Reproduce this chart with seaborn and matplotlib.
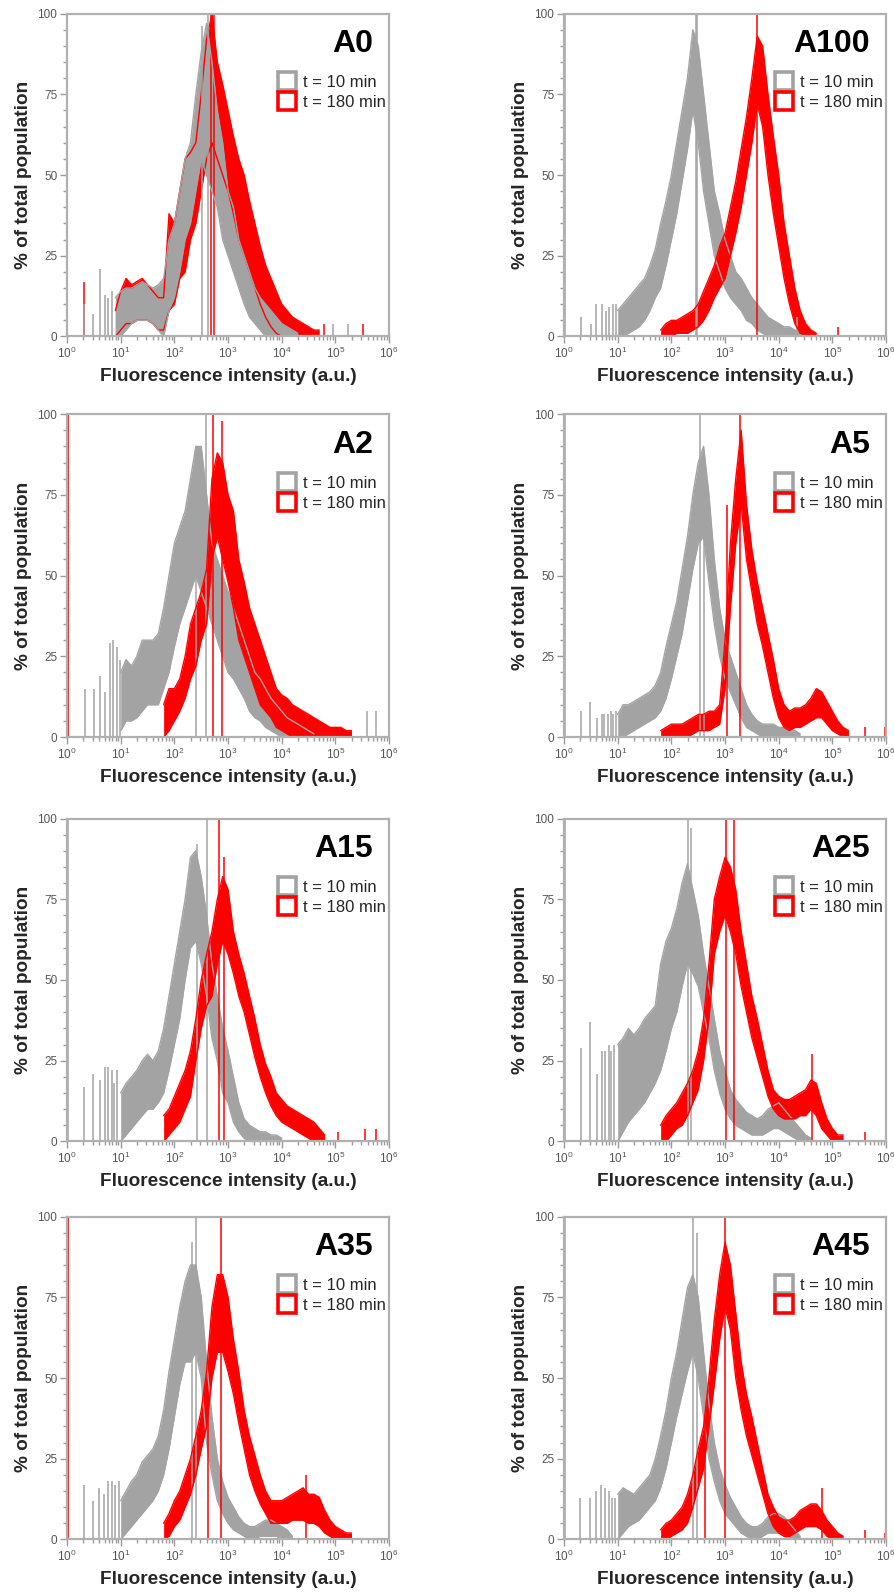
import numpy as np
import pandas as pd
import matplotlib
matplotlib.use("Agg")
import matplotlib.pyplot as plt
import seaborn as sns
from matplotlib.lines import Line2D
from matplotlib.ticker import MultipleLocator, LogLocator, NullFormatter

# Panels, left to right and top to bottom
panel_names = ['A0', 'A100', 'A2', 'A5', 'A15', 'A25', 'A35', 'A45']
series_labels = ['t = 10 min', 't = 180 min']

# Histogram: log10(intensity) of first bin, bins 0.1 decade wide,
# upper / lower edge of the noisy trace (% of total population),
# plus isolated spikes as (log10 intensity, height)
a0_gray_start = 0.9
a0_gray_hi = [12, 14, 15, 15, 16, 17, 16, 15, 16, 18, 30, 35, 45, 55, 60, 75, 88, 97, 85, 70,
              60, 45, 40, 30, 25, 20, 15, 12, 10, 8, 6, 4, 3, 2, 1]
a0_gray_lo = [0, 0, 2, 4, 5, 5, 5, 4, 2, 0, 8, 12, 20, 30, 35, 45, 55, 50, 45, 40,
              30, 25, 20, 15, 10, 6, 4, 2, 0, 0, 0, 0, 0, 0, 0]
a0_gray_spikes = [(0.31, 10), (0.49, 7), (0.62, 21), (0.71, 13), (0.77, 12), (0.83, 14),
                  (2.52, 96), (2.62, 100), (4.95, 4), (5.23, 4)]
a0_red_start = 0.9
a0_red_hi = [8, 14, 18, 16, 17, 18, 16, 14, 12, 12, 38, 35, 45, 55, 57, 60, 75, 92, 100, 85,
             78, 70, 62, 55, 50, 42, 35, 28, 22, 18, 14, 10, 8, 6, 5, 4, 3, 2, 2]
a0_red_lo = [0, 2, 4, 4, 5, 5, 5, 4, 2, 2, 8, 10, 18, 20, 30, 35, 45, 55, 60, 55,
             50, 45, 38, 30, 25, 20, 15, 10, 6, 3, 1, 0, 0, 0, 0, 0, 0, 0, 0]
a0_red_spikes = [(0.31, 17), (2.68, 100), (2.74, 100), (4.78, 4), (5.52, 4)]

a100_gray_start = 1.0
a100_gray_hi = [8, 10, 12, 14, 16, 18, 22, 27, 35, 42, 50, 60, 70, 80, 95, 90, 75, 60, 45, 38,
                30, 25, 20, 18, 15, 12, 10, 8, 6, 5, 4, 3, 3, 2, 1]
a100_gray_lo = [0, 0, 1, 2, 3, 5, 8, 12, 15, 22, 30, 38, 48, 58, 70, 60, 45, 35, 25, 20,
                15, 12, 10, 8, 5, 4, 2, 1, 0, 0, 0, 0, 0, 0, 0]
a100_gray_spikes = [(0.02, 100), (0.31, 6), (0.50, 4), (0.60, 10), (0.71, 10), (0.79, 8),
                    (0.84, 9), (0.91, 10), (0.96, 10), (2.45, 100), (2.48, 100), (4.35, 6)]
a100_red_start = 1.8
a100_red_hi = [2, 4, 5, 5, 6, 7, 8, 10, 14, 18, 22, 28, 32, 40, 48, 58, 68, 80, 93, 90,
               75, 62, 50, 35, 25, 15, 8, 4, 2, 1]
a100_red_lo = [0, 0, 0, 1, 1, 1, 2, 3, 5, 8, 12, 15, 18, 25, 32, 40, 50, 60, 72, 65,
               50, 38, 28, 18, 10, 4, 1, 0, 0, 0]
a100_red_spikes = [(3.60, 100), (5.10, 3), (5.99, 4)]

a2_gray_start = 1.0
a2_gray_hi = [20, 24, 22, 25, 30, 30, 30, 32, 40, 50, 60, 65, 70, 80, 90, 90, 75, 60, 55, 50,
              45, 40, 35, 30, 25, 20, 18, 15, 12, 10, 8, 6, 5, 4, 3, 2, 1]
a2_gray_lo = [2, 5, 5, 6, 8, 10, 10, 10, 15, 20, 28, 35, 40, 45, 50, 45, 40, 35, 30, 25,
              20, 18, 15, 12, 8, 6, 5, 3, 2, 1, 0, 0, 0, 0, 0, 0, 0]
a2_gray_spikes = [(0.02, 100), (0.33, 15), (0.51, 15), (0.62, 19), (0.71, 14), (0.80, 29),
                  (0.86, 30), (0.93, 28), (0.98, 24), (2.40, 90), (2.58, 100), (5.58, 8), (5.75, 8)]
a2_red_start = 1.8
a2_red_hi = [10, 15, 15, 18, 25, 35, 40, 45, 52, 80, 88, 85, 75, 70, 55, 48, 40, 35, 30, 25,
             20, 15, 13, 12, 10, 9, 8, 7, 6, 5, 4, 3, 3, 3, 2, 2]
a2_red_lo = [0, 2, 5, 8, 12, 18, 22, 30, 35, 55, 62, 55, 48, 40, 30, 25, 20, 15, 10, 8,
             6, 3, 2, 1, 0, 0, 0, 0, 0, 0, 0, 0, 0, 0, 0, 0]
a2_red_spikes = [(0.02, 100), (2.72, 100), (2.88, 98)]

a5_gray_start = 1.0
a5_gray_hi = [7, 10, 10, 11, 12, 13, 14, 16, 20, 28, 35, 42, 52, 62, 75, 85, 90, 75, 55, 40,
              30, 25, 20, 15, 10, 7, 5, 4, 4, 4, 3, 3, 2, 2, 1]
a5_gray_lo = [0, 0, 1, 2, 3, 4, 5, 6, 8, 12, 18, 25, 32, 42, 52, 60, 62, 48, 35, 25,
              18, 14, 10, 6, 3, 2, 1, 0, 0, 0, 0, 0, 0, 0, 0]
a5_gray_spikes = [(0.02, 100), (0.32, 8), (0.49, 11), (0.61, 6), (0.70, 7), (0.75, 7),
                  (0.82, 7), (0.87, 8), (0.91, 7), (0.97, 8), (2.54, 100), (2.60, 88)]
a5_red_start = 1.8
a5_red_hi = [2, 3, 4, 4, 4, 5, 6, 7, 7, 8, 8, 10, 30, 60, 80, 95, 72, 58, 48, 40,
             32, 24, 15, 10, 8, 9, 9, 10, 12, 15, 14, 11, 8, 5, 3, 2]
a5_red_lo = [0, 0, 0, 0, 0, 0, 1, 2, 2, 2, 3, 4, 15, 40, 60, 72, 55, 45, 35, 28,
             20, 12, 6, 3, 2, 3, 3, 4, 5, 6, 6, 4, 2, 1, 0, 0]
a5_red_spikes = [(3.04, 72), (3.28, 100), (5.60, 3), (5.98, 3)]

a15_gray_start = 1.0
a15_gray_hi = [15, 18, 20, 22, 25, 27, 25, 28, 35, 45, 55, 65, 75, 88, 90, 82, 70, 55, 45, 35,
               28, 20, 12, 7, 5, 4, 3, 3, 2, 2, 1]
a15_gray_lo = [0, 2, 4, 6, 8, 10, 10, 12, 15, 22, 30, 38, 50, 60, 62, 55, 45, 32, 25, 15,
               12, 6, 3, 1, 0, 0, 0, 0, 0, 0, 0]
a15_gray_spikes = [(0.02, 100), (0.32, 17), (0.49, 21), (0.61, 19), (0.71, 23), (0.77, 23),
                   (0.83, 22), (0.88, 18), (0.94, 22), (2.42, 92), (2.60, 100)]
a15_red_start = 1.8
a15_red_hi = [8, 10, 14, 18, 22, 28, 38, 50, 58, 65, 75, 82, 78, 65, 58, 52, 45, 38, 30, 24,
              20, 15, 13, 11, 10, 9, 8, 7, 6, 4, 2]
a15_red_lo = [0, 2, 4, 6, 10, 14, 25, 35, 42, 45, 55, 62, 58, 52, 45, 40, 33, 26, 20, 15,
              11, 8, 6, 5, 4, 3, 2, 1, 0, 0, 0]
a15_red_spikes = [(2.83, 100), (2.93, 88), (5.05, 3), (5.55, 4), (5.75, 4)]

a25_gray_start = 1.0
a25_gray_hi = [30, 32, 35, 33, 35, 38, 40, 42, 55, 62, 66, 72, 80, 86, 78, 70, 58, 48, 38, 28,
               22, 16, 13, 11, 9, 8, 7, 8, 10, 11, 12, 10, 8, 6, 4, 2, 1]
a25_gray_lo = [0, 3, 6, 8, 10, 12, 15, 18, 22, 28, 35, 40, 48, 55, 52, 48, 40, 32, 22, 15,
               10, 7, 5, 4, 3, 2, 2, 2, 3, 4, 4, 3, 2, 1, 0, 0, 0]
a25_gray_spikes = [(0.02, 100), (0.31, 29), (0.49, 37), (0.61, 21), (0.70, 28), (0.77, 28),
                   (0.83, 30), (0.88, 28), (0.94, 30), (2.31, 100), (2.36, 97)]
a25_red_start = 1.8
a25_red_hi = [5, 8, 10, 12, 15, 18, 22, 28, 38, 55, 75, 82, 88, 85, 78, 65, 55, 45, 38, 30,
              22, 16, 14, 13, 13, 14, 15, 16, 19, 18, 12, 7, 4, 2, 2]
a25_red_lo = [0, 0, 2, 4, 5, 8, 12, 16, 25, 38, 58, 65, 70, 65, 58, 48, 40, 32, 26, 20,
              14, 10, 8, 7, 7, 7, 8, 8, 10, 8, 4, 2, 0, 0, 0]
a25_red_spikes = [(3.02, 100), (3.17, 100), (4.62, 27), (5.60, 3), (5.99, 3)]

a35_gray_start = 1.0
a35_gray_hi = [12, 15, 18, 20, 24, 26, 28, 32, 40, 52, 62, 72, 80, 85, 85, 75, 55, 38, 25, 18,
               13, 10, 7, 5, 4, 4, 5, 6, 6, 5, 4, 3, 1]
a35_gray_lo = [0, 2, 4, 6, 8, 10, 12, 15, 20, 28, 38, 48, 55, 55, 58, 50, 30, 20, 12, 8,
               5, 3, 2, 1, 0, 0, 1, 1, 1, 1, 0, 0, 0]
a35_gray_spikes = [(0.02, 100), (0.31, 17), (0.48, 12), (0.60, 16), (0.69, 14), (0.76, 18),
                   (0.84, 18), (0.90, 17), (0.96, 18), (2.33, 92), (2.40, 100)]
a35_red_start = 1.8
a35_red_hi = [5, 8, 12, 15, 20, 25, 32, 40, 52, 72, 82, 82, 75, 62, 52, 40, 32, 26, 20, 15,
              12, 12, 12, 13, 14, 15, 16, 14, 14, 13, 9, 6, 4, 3, 2, 2]
a35_red_lo = [0, 1, 4, 6, 10, 14, 20, 28, 35, 50, 58, 58, 52, 45, 36, 28, 20, 15, 11, 8,
              5, 5, 5, 5, 6, 6, 6, 5, 5, 4, 2, 1, 0, 0, 0, 0]
a35_red_spikes = [(0.02, 100), (2.62, 42), (2.87, 100), (4.45, 20), (5.99, 2)]

a45_gray_start = 1.0
a45_gray_hi = [14, 16, 15, 14, 16, 18, 20, 25, 32, 40, 50, 58, 68, 78, 82, 75, 58, 42, 30, 22,
               17, 13, 10, 7, 5, 4, 4, 5, 7, 8, 8, 7, 5, 3, 1]
a45_gray_lo = [0, 2, 4, 5, 6, 8, 10, 12, 16, 22, 30, 38, 45, 52, 58, 50, 38, 25, 18, 12,
               8, 6, 4, 2, 1, 0, 0, 1, 2, 2, 2, 1, 0, 0, 0]
a45_gray_spikes = [(0.02, 100), (0.29, 13), (0.48, 13), (0.60, 15), (0.69, 17), (0.77, 16),
                   (0.83, 15), (0.89, 13), (0.95, 13), (2.41, 100), (2.48, 95)]
a45_red_start = 1.8
a45_red_hi = [3, 5, 6, 8, 10, 14, 20, 28, 35, 50, 68, 82, 92, 85, 70, 55, 45, 38, 30, 22,
              14, 10, 7, 6, 6, 7, 9, 10, 11, 11, 9, 6, 4, 2, 1]
a45_red_lo = [0, 0, 1, 2, 3, 5, 10, 16, 22, 35, 48, 62, 72, 65, 50, 40, 32, 26, 20, 14,
              8, 4, 2, 1, 1, 2, 3, 4, 4, 4, 3, 1, 0, 0, 0]
a45_red_spikes = [(2.62, 38), (3.00, 100), (4.80, 16), (5.60, 3), (5.98, 2)]

gray_data = [
    (a0_gray_start, a0_gray_hi, a0_gray_lo, a0_gray_spikes),
    (a100_gray_start, a100_gray_hi, a100_gray_lo, a100_gray_spikes),
    (a2_gray_start, a2_gray_hi, a2_gray_lo, a2_gray_spikes),
    (a5_gray_start, a5_gray_hi, a5_gray_lo, a5_gray_spikes),
    (a15_gray_start, a15_gray_hi, a15_gray_lo, a15_gray_spikes),
    (a25_gray_start, a25_gray_hi, a25_gray_lo, a25_gray_spikes),
    (a35_gray_start, a35_gray_hi, a35_gray_lo, a35_gray_spikes),
    (a45_gray_start, a45_gray_hi, a45_gray_lo, a45_gray_spikes),
]
red_data = [
    (a0_red_start, a0_red_hi, a0_red_lo, a0_red_spikes),
    (a100_red_start, a100_red_hi, a100_red_lo, a100_red_spikes),
    (a2_red_start, a2_red_hi, a2_red_lo, a2_red_spikes),
    (a5_red_start, a5_red_hi, a5_red_lo, a5_red_spikes),
    (a15_red_start, a15_red_hi, a15_red_lo, a15_red_spikes),
    (a25_red_start, a25_red_hi, a25_red_lo, a25_red_spikes),
    (a35_red_start, a35_red_hi, a35_red_lo, a35_red_spikes),
    (a45_red_start, a45_red_hi, a45_red_lo, a45_red_spikes),
]

GRAY = '#a3a3a3'
RED = '#ff0000'

sns.set_theme(style='ticks')
plt.rcParams['font.family'] = ['Liberation Sans', 'DejaVu Sans']


def draw_series(ax, start, hi, lo, spikes, color):
    logx = np.round(start + 0.1 * np.arange(len(hi)), 2)
    df = pd.DataFrame({'fi': 10 ** logx, 'hi': hi, 'lo': lo})
    ax.fill_between(df.fi, df.lo, df.hi, color=color, lw=0)
    sns.lineplot(data=df, x='fi', y='hi', ax=ax, color=color, lw=1.0)
    sns.lineplot(data=df, x='fi', y='lo', ax=ax, color=color, lw=1.0)
    sx = 10 ** np.array([s[0] for s in spikes])
    sh = [s[1] for s in spikes]
    ax.vlines(sx, 0, sh, color=color, lw=1.1)


fig = plt.figure(figsize=(8.95, 15.94), dpi=100)
col_left = [0.0749, 0.6302]
row_bottom = [0.7889, 0.5376, 0.2839, 0.0342]

for i, name in enumerate(panel_names):
    r, c = divmod(i, 2)
    ax = fig.add_axes([col_left[c], row_bottom[r], 0.3598, 0.2026])

    # A0: the 10 min trace sits over the 180 min one
    if name == 'A0':
        draw_series(ax, *red_data[i], RED)
        draw_series(ax, *gray_data[i], GRAY)
    else:
        draw_series(ax, *gray_data[i], GRAY)
        draw_series(ax, *red_data[i], RED)

    ax.set_xscale('log')
    ax.set_xlim(1, 1e6)
    ax.set_ylim(0, 100)
    ax.xaxis.set_major_locator(LogLocator(base=10, numticks=10))
    ax.xaxis.set_minor_locator(LogLocator(base=10, subs=np.arange(2, 10), numticks=10))
    ax.xaxis.set_minor_formatter(NullFormatter())
    ax.yaxis.set_major_locator(MultipleLocator(25))
    ax.yaxis.set_minor_locator(MultipleLocator(5))
    ax.tick_params(which='both', direction='out', color='#9a9a9a', width=1,
                   labelcolor='#555555', labelsize=8.5)
    ax.tick_params(which='major', length=5, pad=2)
    ax.tick_params(which='minor', length=3)
    for sp in ax.spines.values():
        sp.set_visible(True)
        sp.set_color('#b0b0b0')
        sp.set_linewidth(1.6)

    ax.set_xlabel('Fluorescence intensity (a.u.)', fontsize=13.7, fontweight='bold', labelpad=5)
    ax.set_ylabel('% of total population', fontsize=13.7, fontweight='bold', labelpad=4)

    ax.text(0.95, 0.905, name, transform=ax.transAxes, ha='right', va='center',
            fontsize=23, fontweight='bold', color='black')

    handles = [Line2D([], [], marker='s', ls='none', ms=12.5, mfc='white', mec=GRAY, mew=2.6),
               Line2D([], [], marker='s', ls='none', ms=12.5, mfc='white', mec=RED, mew=2.6)]
    ax.legend(handles, series_labels, loc='upper right', bbox_to_anchor=(0.995, 0.815),
              frameon=False, fontsize=12, handlelength=1.0, handletextpad=0.45,
              labelspacing=0.3, borderpad=0.1, borderaxespad=0)

fig.savefig('out.png', dpi=100)
